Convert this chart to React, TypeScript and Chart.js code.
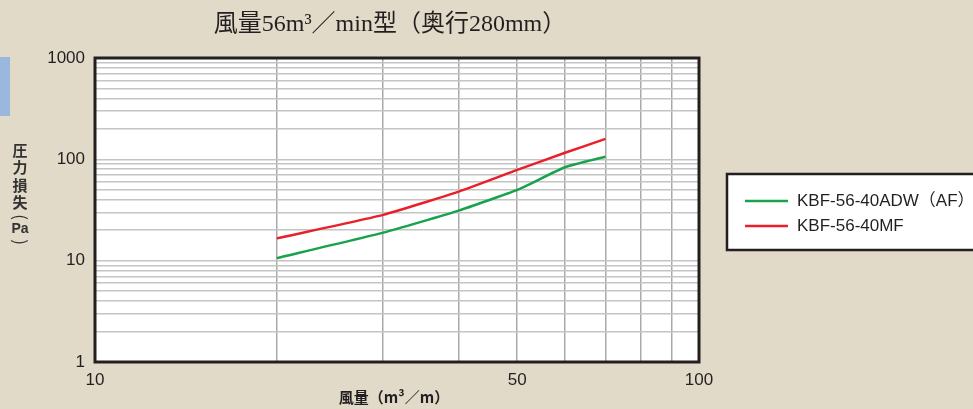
import { useEffect, useRef } from 'react';
import { Chart, registerables } from 'chart.js';

Chart.register(...registerables);

const airflow = [20, 30, 40, 50, 60, 70];
const adwPressure = [10.6, 18.9, 31.2, 49.9, 83.5, 106];
const mfPressure = [16.6, 28.3, 48, 78.6, 116, 159];
const xGridValues = [10, 20, 30, 40, 50, 60, 70, 80, 90, 100];
const yGridValues = [
  1, 2, 3, 4, 5, 6, 7, 8, 9,
  10, 20, 30, 40, 50, 60, 70, 80, 90,
  100, 200, 300, 400, 500, 600, 700, 800, 900,
  1000,
];
const xTickLabels = [10, 50, 100];
const yTickLabels = [1, 10, 100, 1000];
const seriesNames = ['KBF-56-40ADW（AF）', 'KBF-56-40MF'];
const seriesColors = ['#17a24b', '#e8202a'];
const titleText = '風量56m³／min型（奥行280mm）';
const xTitleText = '風量（m³／m）';
const yTitleChars = ['圧', '力', '損', '失'];
const yTitleUnit = 'Pa';

const INK = '#231f20';
const SANS = "'Liberation Sans', Arial, 'Noto Sans CJK JP', sans-serif";
const CJK = "'Noto Sans CJK JP', 'Liberation Sans', sans-serif";

const decorations = {
  id: 'decorations',
  beforeDraw(chart: any) {
    const { ctx, chartArea: a } = chart;
    ctx.save();
    ctx.fillStyle = '#ffffff';
    ctx.fillRect(a.left, a.top, a.right - a.left, a.bottom - a.top);
    ctx.restore();
  },
  afterDraw(chart: any) {
    const { ctx, chartArea: a } = chart;
    ctx.save();
    ctx.strokeStyle = INK;
    ctx.lineWidth = 3;
    ctx.strokeRect(a.left, a.top, a.right - a.left, a.bottom - a.top);

    ctx.fillStyle = '#9ab7dd';
    ctx.fillRect(0, 57, 10, 59);

    ctx.fillStyle = INK;
    ctx.font = "24px 'Liberation Serif', 'Noto Sans CJK JP', serif";
    ctx.textAlign = 'center';
    ctx.textBaseline = 'middle';
    ctx.fillText(titleText, 390, 25);

    ctx.font = 'bold 15px ' + CJK;
    ctx.fillText(xTitleText, 394, 397);

    ctx.fillStyle = '#333333';
    ctx.font = 'bold 15px ' + CJK;
    yTitleChars.forEach((c, i) => {
      ctx.fillText(c, 20, 150 + i * 17.5);
    });
    ctx.save();
    ctx.translate(20, 217);
    ctx.rotate(Math.PI / 2);
    ctx.font = '17px ' + CJK;
    ctx.fillText('(', 0, 0);
    ctx.restore();
    ctx.font = 'bold 14px ' + SANS;
    ctx.fillText(yTitleUnit, 20, 229);
    ctx.save();
    ctx.translate(20, 242);
    ctx.rotate(Math.PI / 2);
    ctx.font = '17px ' + CJK;
    ctx.fillText(')', 0, 0);
    ctx.restore();

    ctx.fillStyle = '#ffffff';
    ctx.fillRect(727, 174, 260, 76);
    ctx.strokeStyle = INK;
    ctx.lineWidth = 2.5;
    ctx.strokeRect(727, 174, 260, 76);
    seriesNames.forEach((name, i) => {
      const y = 201 + i * 25;
      ctx.strokeStyle = seriesColors[i];
      ctx.lineWidth = 2.5;
      ctx.beginPath();
      ctx.moveTo(745, y);
      ctx.lineTo(788, y);
      ctx.stroke();
      ctx.fillStyle = INK;
      ctx.font = '17px ' + SANS;
      ctx.textAlign = 'left';
      ctx.fillText(name, 797, y);
    });
    ctx.restore();
  },
};

export default function App() {
  const ref = useRef<HTMLCanvasElement>(null);
  useEffect(() => {
    document.body.style.margin = '0';
    const chart = new Chart(ref.current!, {
      type: 'line',
      data: {
        datasets: [
          {
            label: seriesNames[0],
            data: airflow.map((x, i) => ({ x, y: adwPressure[i] })),
            borderColor: seriesColors[0],
            borderWidth: 2.5,
            pointRadius: 0,
            tension: 0.15,
          },
          {
            label: seriesNames[1],
            data: airflow.map((x, i) => ({ x, y: mfPressure[i] })),
            borderColor: seriesColors[1],
            borderWidth: 2.5,
            pointRadius: 0,
            tension: 0.15,
          },
        ],
      },
      options: {
        animation: false,
        responsive: false,
        maintainAspectRatio: false,
        layout: { padding: { left: 0, top: 58, right: 973 - 699, bottom: 0 } },
        plugins: { legend: { display: false }, tooltip: { enabled: false }, title: { display: false } },
        scales: {
          x: {
            type: 'logarithmic',
            min: 10,
            max: 100,
            afterBuildTicks: (s: any) => { s.ticks = xGridValues.map((value) => ({ value })); },
            afterFit: (s: any) => { s.height = 409 - 362; },
            border: { display: false },
            grid: { color: '#aaaaaa', lineWidth: 1.5, drawTicks: false },
            ticks: {
              autoSkip: false,
              maxRotation: 0,
              padding: 8,
              color: INK,
              font: { family: SANS, size: 17 },
              callback: (v: any) => (xTickLabels.includes(Number(v)) ? String(v) : ''),
            },
          },
          y: {
            type: 'logarithmic',
            min: 1,
            max: 1000,
            afterBuildTicks: (s: any) => { s.ticks = yGridValues.map((value) => ({ value })); },
            afterFit: (s: any) => { s.width = 95; },
            border: { display: false },
            grid: { color: '#c4c4c4', lineWidth: 1.5, drawTicks: false },
            ticks: {
              autoSkip: false,
              padding: 10,
              color: INK,
              font: { family: SANS, size: 17 },
              callback: (v: any) => (yTickLabels.includes(Number(v)) ? String(v) : ''),
            },
          },
        },
      },
      plugins: [decorations],
    } as any);
    return () => chart.destroy();
  }, []);
  return (
    <div style={{ width: 973, height: 409, background: '#e2dac8', position: 'relative' }}>
      <canvas ref={ref} width={973} height={409} style={{ display: 'block' }} />
    </div>
  );
}
